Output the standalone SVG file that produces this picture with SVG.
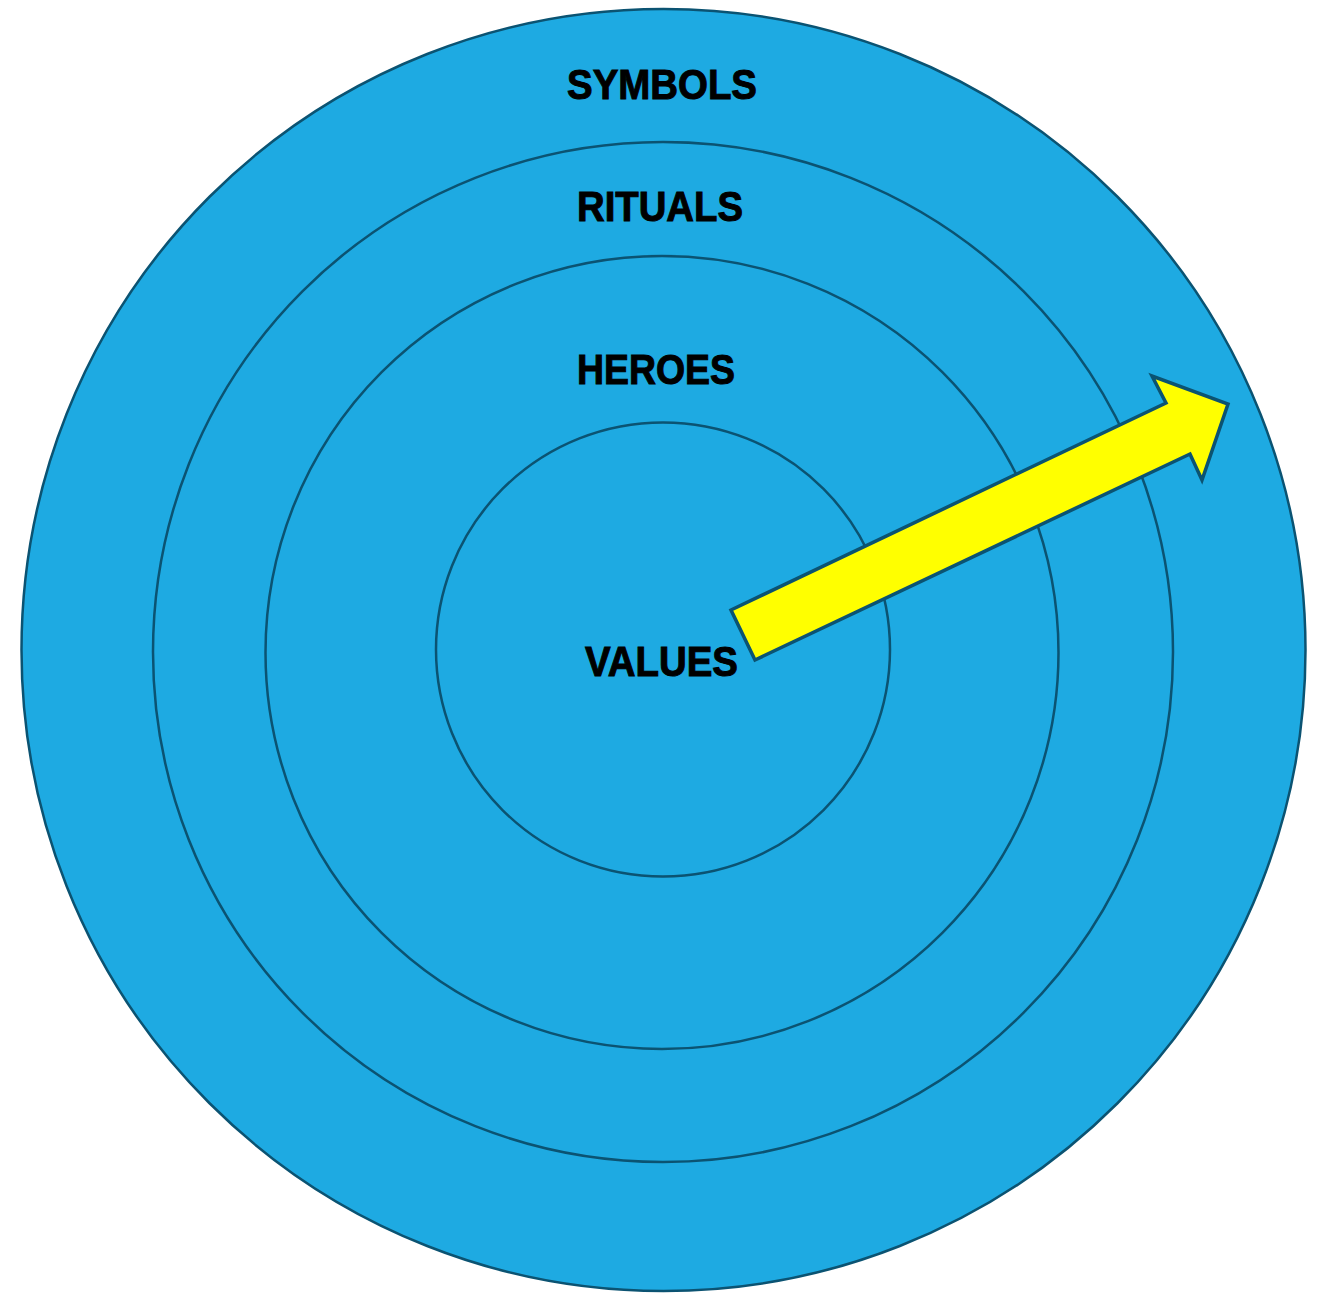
<svg xmlns="http://www.w3.org/2000/svg" width="1322" height="1293" viewBox="0 0 1322 1293">
<style>
.ring{fill:#1eaae2;stroke:#0b5372;stroke-width:2.5}
.lbl{font-family:"Liberation Sans",Arial,sans-serif;font-weight:bold;font-size:42px;fill:#000;stroke:#000;stroke-width:1;text-anchor:start}
.arrow{fill:#ffff00;stroke:#0b5372;stroke-width:3.5;stroke-linejoin:miter}
</style>
<rect width="1322" height="1293" fill="#fff"/>
<g id="symbols">
<ellipse class="ring" cx="663.5" cy="650" rx="642" ry="641"/>
<text class="lbl" x="567" y="99" textLength="190" lengthAdjust="spacingAndGlyphs">SYMBOLS</text>
</g>
<g id="rituals">
<circle class="ring" cx="663" cy="652" r="510"/>
<text class="lbl" x="577" y="221" textLength="166" lengthAdjust="spacingAndGlyphs">RITUALS</text>
</g>
<g id="heroes">
<circle class="ring" cx="662" cy="652.5" r="396.5"/>
<text class="lbl" x="577" y="384" textLength="158" lengthAdjust="spacingAndGlyphs">HEROES</text>
</g>
<g id="values">
<circle class="ring" cx="663" cy="649.5" r="227"/>
<text class="lbl" x="585" y="676" textLength="153" lengthAdjust="spacingAndGlyphs">VALUES</text>
</g>
<g id="connectors">
<polygon class="arrow" points="731,610 1166,403 1152,376 1228,404 1202,480 1190,454 755,660"/>
</g>
</svg>
